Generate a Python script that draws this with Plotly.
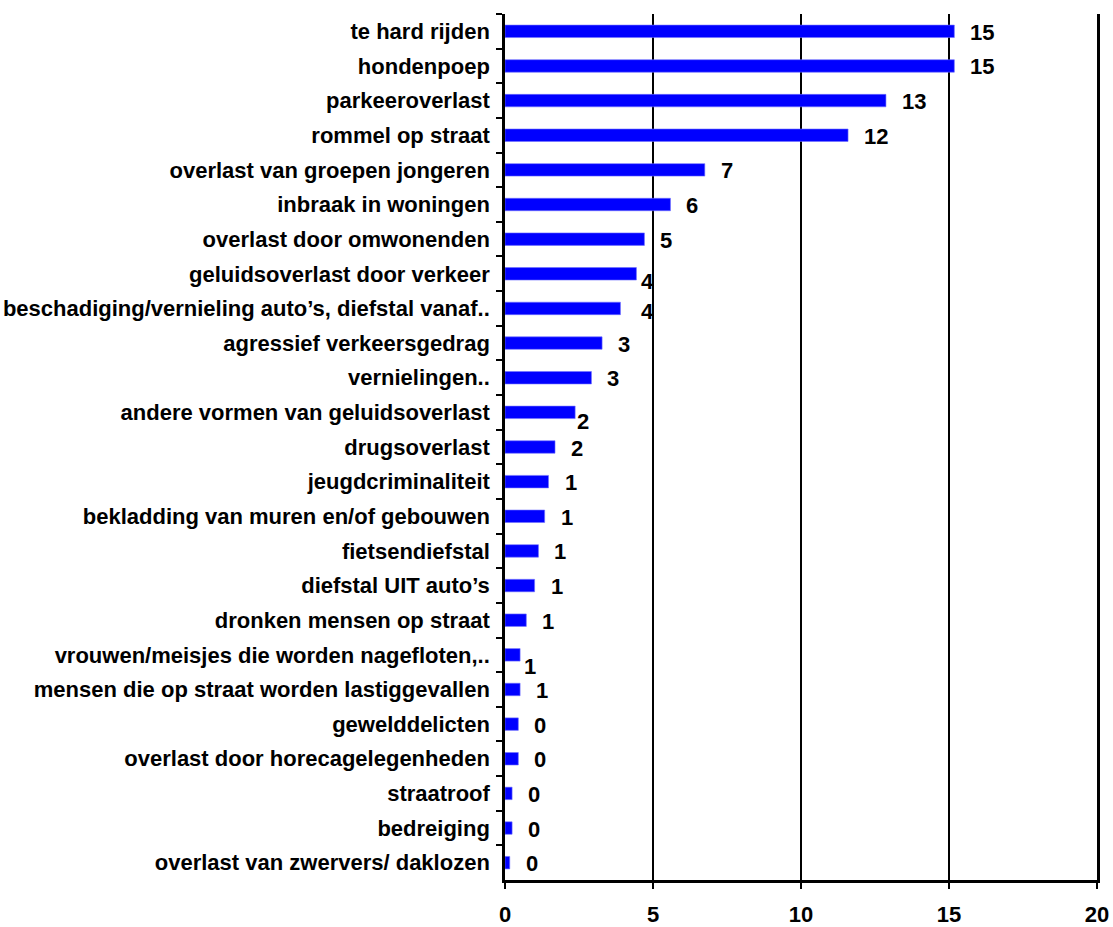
import plotly.graph_objects as go

# Categorieën van boven naar beneden
categories = [
    "te hard rijden",
    "hondenpoep",
    "parkeeroverlast",
    "rommel op straat",
    "overlast van groepen jongeren",
    "inbraak in woningen",
    "overlast door omwonenden",
    "geluidsoverlast door verkeer",
    "beschadiging/vernieling auto’s, diefstal vanaf..",
    "agressief verkeersgedrag",
    "vernielingen..",
    "andere vormen van geluidsoverlast",
    "drugsoverlast",
    "jeugdcriminaliteit",
    "bekladding van muren en/of gebouwen",
    "fietsendiefstal",
    "diefstal UIT auto’s",
    "dronken mensen op straat",
    "vrouwen/meisjes die worden nagefloten,..",
    "mensen die op straat worden lastiggevallen",
    "gewelddelicten",
    "overlast door horecagelegenheden",
    "straatroof",
    "bedreiging",
    "overlast van zwervers/ daklozen",
]

values = [
    15.18, 15.18, 12.87, 11.59, 6.75, 5.59, 4.71, 4.44, 3.90, 3.28,
    2.92, 2.37, 1.69, 1.47, 1.34, 1.13, 1.00, 0.72, 0.51, 0.51,
    0.45, 0.45, 0.24, 0.24, 0.16,
]

x_ticks = [0, 5, 10, 15, 20]

FONT = "Liberation Sans, Arial, sans-serif"

# Een paar labels staan in het origineel iets verschoven (xshift, yshift in px)
LABEL_SHIFT = {7: (3, -8), 8: (19, -3), 11: (0, -9), 18: (2, -12)}

fig = go.Figure()
fig.add_trace(go.Bar(
    x=values,
    y=categories,
    orientation="h",
    marker=dict(color="#0000FF", line=dict(color="#7070ff", width=0.6)),
    hoverinfo="x+y",
))

# Waardelabels rechts van elke balk
for i, (cat, val) in enumerate(zip(categories, values)):
    dx, dy = LABEL_SHIFT.get(i, (14, -1))
    fig.add_annotation(
        x=val, y=cat,
        text=f"{val:.0f}",
        showarrow=False,
        xanchor="left",
        xshift=dx,
        yshift=dy,
        font=dict(family=FONT, size=22, color="black", weight="bold"),
    )

fig.update_layout(
    width=1113, height=927,
    margin=dict(l=505, r=16, t=14, b=47),
    paper_bgcolor="white",
    plot_bgcolor="white",
    showlegend=False,
    bargap=0.64,
    font=dict(family=FONT, size=22, color="black", weight="bold"),
)
fig.update_xaxes(
    range=[0, 20],
    tickvals=x_ticks,
    automargin=False,
    showgrid=True, gridcolor="black", gridwidth=2,
    showline=True, linecolor="black", linewidth=3,
    ticks="outside", ticklen=6, tickwidth=2, tickcolor="black",
    ticklabelstandoff=7,
    zeroline=False,
)
# mirror: verticale lijn bij 20 (rechterrand)
fig.update_yaxes(
    autorange="reversed",
    automargin=False,
    showline=True, linecolor="black", linewidth=2.5, mirror=True,
    ticks="outside", ticklen=6, tickwidth=2, tickcolor="black",
    tickson="boundaries",
    showgrid=False,
    ticklabelstandoff=8,
)

# body-marge van de pagina weghalen zodat de figuur op (0, 0) staat
fig.write_html(
    "out.html",
    config={"displayModeBar": False},
    post_script="document.body.style.margin='0';document.body.style.overflow='hidden';",
)
